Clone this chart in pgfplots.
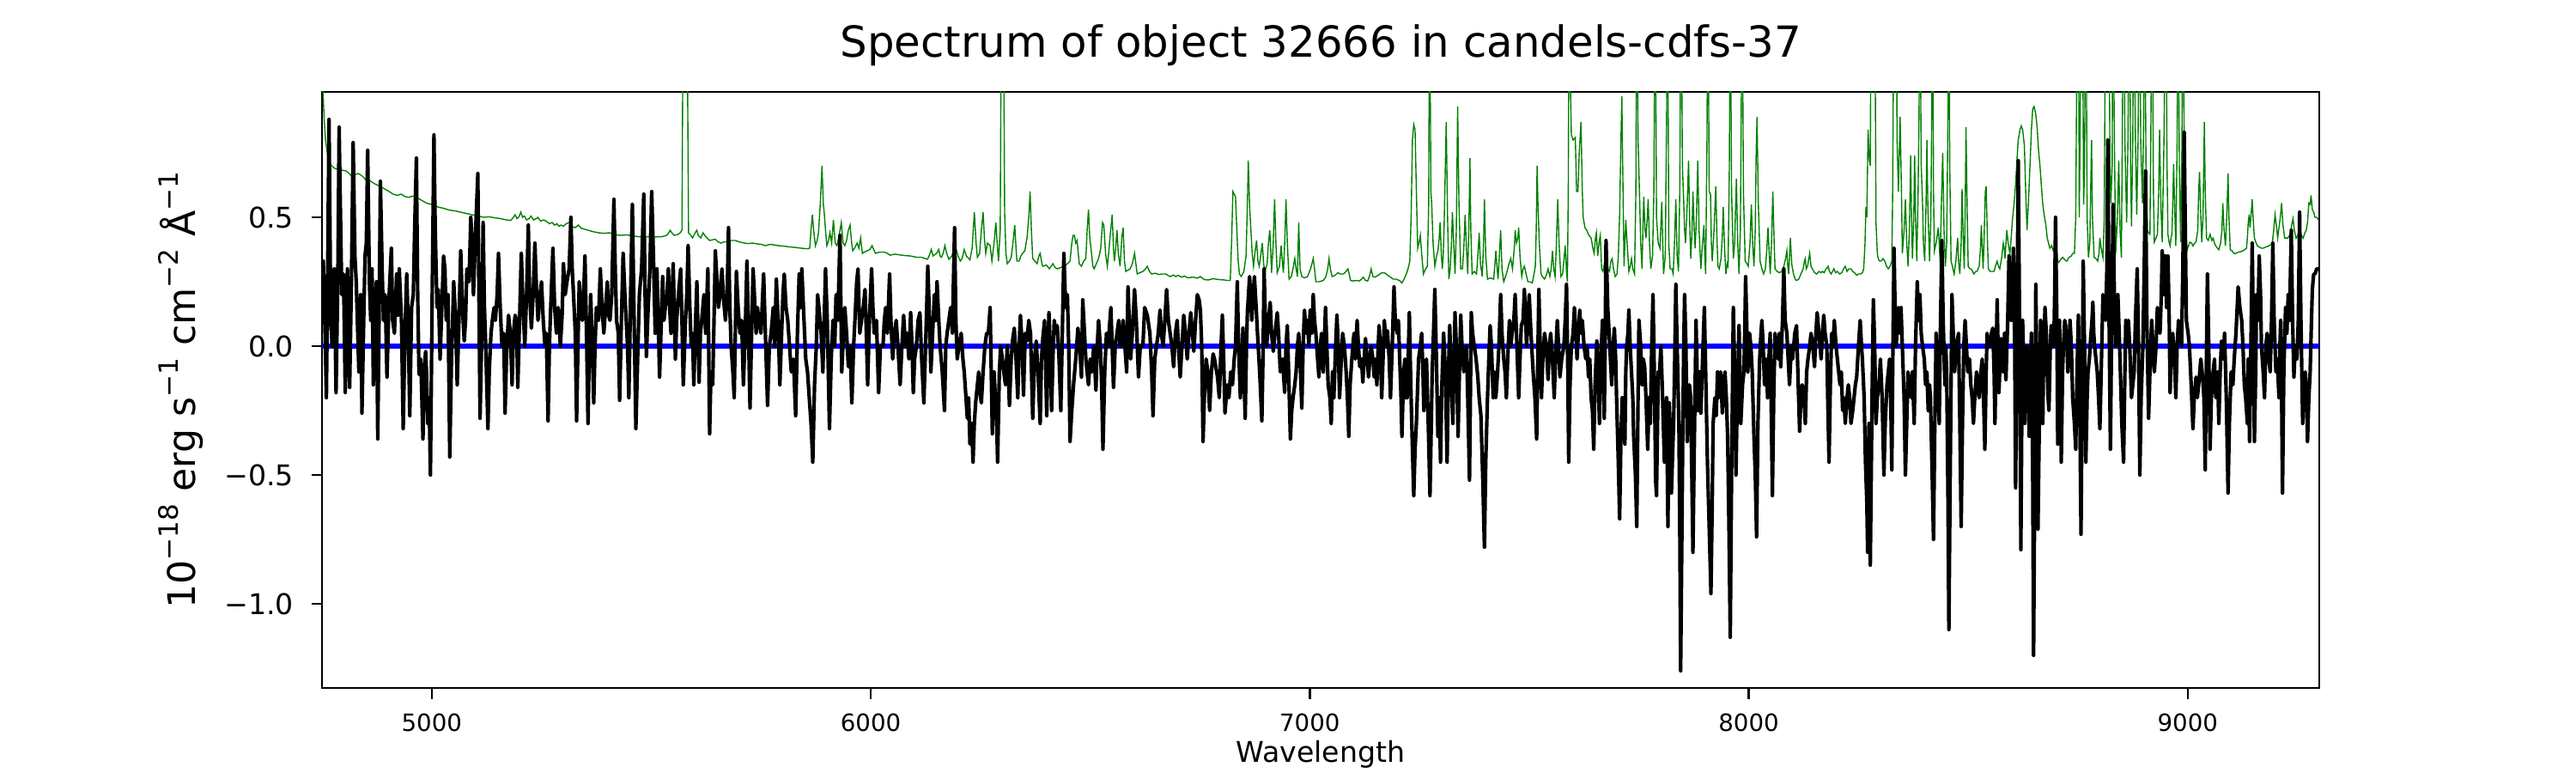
\documentclass[border=0pt]{standalone}
\usepackage{fontspec}
\setmainfont{DejaVu Sans}
\usepackage{pgfplots}
\pgfplotsset{compat=1.18}
\definecolor{mplgreen}{RGB}{0,128,0}
\newcommand{\sps}[1]{\raisebox{0.45em}{\fontsize{11.2}{13}\selectfont #1}}
\begin{document}
\begin{tikzpicture}
\path[use as bounding box] (0,0) rectangle (1080bp,324bp);
\begin{axis}[
  at={(135bp,35.6bp)}, anchor=south west,
  scale only axis, width=837.4bp, height=249.9bp,
  xmin=4750, xmax=9300, ymin=-1.327, ymax=0.987,
  axis line style={line width=0.9bp},
  tick align=outside, xtick pos=bottom, ytick pos=left,
  tick style={line width=0.9bp, black},
  major tick length=4.5bp,
  xtick={5000,6000,7000,8000,9000}, xticklabels={5000,6000,7000,8000,9000},
  ytick={-1,-0.5,0,0.5}, yticklabels={−1.0,−0.5,0.0,0.5},
  xticklabel style={font=\fontsize{10}{12}\selectfont, anchor=base, inner sep=0pt, yshift=-13.75bp},
  yticklabel style={font=\fontsize{12}{14}\selectfont, anchor=east, inner sep=0pt, xshift=-7.2bp},
  title={Spectrum of object 32666 in candels-cdfs-37},
  title style={at={(axis description cs:0.5,1)}, anchor=base, yshift=8.5bp, inner sep=0pt, font=\fontsize{18}{21.6}\selectfont},
  xlabel={Wavelength},
  xlabel style={at={(axis description cs:0.5,0)}, anchor=base, yshift=-31.1bp, inner sep=0pt, font=\fontsize{12}{14.4}\selectfont},
  ylabel={10\sps{−18} erg s\sps{−1} cm\sps{−2} Å\sps{−1}},
  ylabel style={at={(axis description cs:-0.0633,0.5)}, anchor=base, inner sep=0pt, font=\fontsize{16}{19}\selectfont},
]
% green (error / sky) spectrum
\addplot[color=mplgreen, line width=0.5bp, mark=none] coordinates {
(4750,1.2)(4752,1.0)(4755,0.88)(4758,0.8)(4762,0.75)(4766,0.72)(4772,0.70)(4779,0.69)(4790,0.685)(4805,0.68)
(4812,0.67)(4818,0.66)(4825,0.665)(4832,0.67)(4838,0.665)(4845,0.655)(4852,0.64)(4855,0.65)(4861,0.64)(4870,0.63)
(4883,0.62)(4893,0.61)(4903,0.60)(4912,0.59)(4922,0.585)(4930,0.59)(4940,0.58)(4949,0.578)(4958,0.583)(4968,0.575)
(4978,0.565)(4988,0.555)(5000,0.55)(5014,0.54)(5027,0.535)(5040,0.528)(5053,0.525)(5066,0.52)(5079,0.515)(5092,0.51)
(5105,0.505)(5118,0.50)(5131,0.502)(5144,0.498)(5157,0.495)(5170,0.49)(5180,0.488)(5186,0.50)(5190,0.51)(5194,0.495)
(5198,0.50)(5203,0.52)(5207,0.50)(5211,0.505)(5216,0.49)(5222,0.495)(5226,0.505)(5232,0.49)(5238,0.495)(5242,0.50)
(5248,0.485)(5255,0.49)(5261,0.485)(5268,0.475)(5274,0.48)(5280,0.47)(5285,0.475)(5290,0.465)(5294,0.47)(5300,0.465)
(5306,0.475)(5313,0.48)(5318,0.465)(5327,0.46)(5334,0.47)(5340,0.458)(5346,0.455)(5356,0.45)(5366,0.445)(5380,0.44)
(5392,0.438)(5405,0.44)(5418,0.432)(5431,0.43)(5444,0.432)(5457,0.428)(5470,0.425)(5483,0.423)(5496,0.425)(5510,0.424)
(5525,0.425)(5535,0.43)(5540,0.44)(5543,0.45)(5547,0.44)(5552,0.43)(5560,0.433)(5566,0.44)(5570,0.45)(5573,1.5)
(5577,1.5)(5581,1.5)(5585,0.44)(5590,0.43)(5594,0.42)(5600,0.44)(5604,0.45)(5607,0.43)(5613,0.42)(5618,0.44)
(5624,0.425)(5633,0.41)(5640,0.413)(5646,0.415)(5652,0.405)(5659,0.40)(5666,0.405)(5672,0.405)(5680,0.41)(5692,0.41)
(5700,0.405)(5712,0.40)(5722,0.398)(5731,0.40)(5741,0.397)(5751,0.395)(5760,0.39)(5770,0.395)(5780,0.393)(5790,0.39)
(5803,0.388)(5816,0.385)(5829,0.383)(5842,0.38)(5855,0.378)(5861,0.38)(5864,0.45)(5867,0.51)(5870,0.45)(5874,0.39)
(5878,0.41)(5881,0.44)(5885,0.55)(5889,0.70)(5892,0.55)(5894,0.52)(5897,0.45)(5900,0.39)(5904,0.41)(5907,0.44)
(5911,0.40)(5915,0.49)(5919,0.40)(5923,0.39)(5927,0.42)(5930,0.45)(5933,0.48)(5937,0.40)(5941,0.39)(5945,0.41)
(5949,0.45)(5953,0.47)(5956,0.41)(5959,0.37)(5963,0.38)(5969,0.40)(5973,0.38)(5977,0.42)(5981,0.36)(5985,0.365)
(5992,0.37)(5998,0.375)(6003,0.39)(6008,0.37)(6011,0.36)(6020,0.365)(6031,0.365)(6038,0.36)(6044,0.353)(6055,0.357)
(6063,0.355)(6075,0.352)(6090,0.35)(6105,0.345)(6116,0.345)(6124,0.34)(6129,0.337)(6133,0.35)(6138,0.375)(6142,0.35)
(6145,0.354)(6150,0.36)(6155,0.375)(6158,0.35)(6161,0.345)(6165,0.36)(6169,0.39)(6173,0.36)(6178,0.337)(6185,0.35)
(6191,0.39)(6194,0.38)(6199,0.35)(6204,0.33)(6208,0.34)(6213,0.375)(6218,0.35)(6226,0.335)(6231,0.38)(6236,0.52)
(6240,0.40)(6243,0.345)(6248,0.36)(6252,0.45)(6256,0.52)(6259,0.42)(6262,0.36)(6266,0.40)(6272,0.39)(6276,0.33)
(6281,0.40)(6285,0.48)(6288,0.40)(6291,0.33)(6295,0.45)(6298,1.5)(6302,1.5)(6305,0.52)(6308,0.36)(6311,0.32)
(6316,0.33)(6320,0.344)(6324,0.40)(6328,0.47)(6331,0.38)(6333,0.33)(6338,0.33)(6342,0.35)(6346,0.36)(6351,0.37)
(6356,0.42)(6360,0.50)(6363,0.60)(6366,0.45)(6369,0.34)(6374,0.33)(6379,0.32)(6383,0.35)(6386,0.36)(6390,0.32)
(6392,0.31)(6400,0.315)(6407,0.30)(6411,0.31)(6415,0.32)(6420,0.305)(6425,0.30)(6432,0.305)(6441,0.31)(6448,0.32)
(6454,0.33)(6458,0.40)(6461,0.43)(6464,0.43)(6467,0.40)(6470,0.41)(6475,0.32)(6480,0.31)(6485,0.33)(6490,0.34)
(6493,0.45)(6496,0.53)(6499,0.42)(6503,0.36)(6506,0.31)(6509,0.30)(6514,0.32)(6519,0.34)(6524,0.38)(6528,0.48)
(6531,0.47)(6535,0.36)(6539,0.31)(6542,0.36)(6546,0.44)(6550,0.51)(6553,0.38)(6555,0.33)(6558,0.38)(6561,0.45)
(6564,0.36)(6568,0.31)(6572,0.42)(6575,0.46)(6578,0.33)(6581,0.29)(6586,0.295)(6591,0.30)(6596,0.32)(6601,0.36)
(6604,0.32)(6607,0.28)(6613,0.285)(6620,0.29)(6626,0.30)(6630,0.31)(6635,0.29)(6640,0.28)(6648,0.283)(6656,0.278)
(6664,0.28)(6672,0.28)(6682,0.27)(6690,0.276)(6695,0.27)(6700,0.275)(6708,0.268)(6715,0.272)(6722,0.265)(6734,0.268)
(6744,0.264)(6751,0.27)(6760,0.258)(6770,0.257)(6780,0.262)(6786,0.26)(6795,0.258)(6805,0.257)(6812,0.255)(6819,0.255)
(6822,0.40)(6825,0.60)(6828,0.59)(6831,0.58)(6834,0.45)(6837,0.33)(6840,0.28)(6844,0.27)(6850,0.29)(6855,0.35)
(6858,0.55)(6860,0.72)(6863,0.55)(6866,0.45)(6869,0.36)(6872,0.31)(6875,0.36)(6879,0.41)(6882,0.33)(6885,0.31)
(6889,0.36)(6892,0.40)(6895,0.32)(6898,0.29)(6903,0.32)(6906,0.40)(6909,0.45)(6911,0.38)(6913,0.285)(6917,0.40)
(6920,0.57)(6923,0.40)(6926,0.285)(6931,0.31)(6935,0.39)(6938,0.32)(6940,0.285)(6943,0.40)(6946,0.57)(6949,0.40)
(6953,0.26)(6958,0.27)(6962,0.30)(6966,0.34)(6969,0.30)(6972,0.27)(6975,0.48)(6978,0.30)(6982,0.27)(6988,0.265)
(6995,0.27)(7002,0.30)(7008,0.34)(7011,0.30)(7014,0.25)(7022,0.25)(7031,0.255)(7037,0.27)(7041,0.30)(7044,0.34)
(7047,0.30)(7051,0.27)(7058,0.275)(7064,0.285)(7070,0.28)(7077,0.28)(7083,0.29)(7087,0.30)(7090,0.28)(7093,0.255)
(7100,0.253)(7107,0.255)(7113,0.253)(7118,0.26)(7122,0.268)(7127,0.255)(7132,0.253)(7136,0.27)(7140,0.30)(7144,0.27)
(7149,0.268)(7156,0.275)(7164,0.285)(7171,0.284)(7178,0.275)(7184,0.268)(7190,0.26)(7197,0.26)(7204,0.255)(7210,0.245)
(7215,0.26)(7220,0.28)(7224,0.30)(7228,0.33)(7231,0.50)(7234,0.80)(7237,0.86)(7240,0.84)(7243,0.60)(7246,0.38)
(7249,0.40)(7252,0.43)(7255,0.36)(7259,0.28)(7264,0.30)(7268,0.31)(7271,0.55)(7273,1.5)(7276,0.60)(7278,0.55)
(7281,0.40)(7285,0.31)(7289,0.35)(7292,0.37)(7295,0.42)(7297,0.48)(7300,0.35)(7302,0.30)(7304,0.35)(7306,0.45)
(7309,0.70)(7311,0.87)(7314,0.50)(7317,0.26)(7320,0.30)(7323,0.40)(7325,0.52)(7328,0.40)(7331,0.28)(7334,0.45)
(7337,0.93)(7340,0.55)(7344,0.30)(7348,0.30)(7351,0.38)(7354,0.51)(7357,0.38)(7360,0.28)(7363,0.50)(7365,0.73)
(7367,0.45)(7370,0.28)(7375,0.29)(7380,0.28)(7383,0.35)(7386,0.44)(7389,0.32)(7393,0.27)(7396,0.40)(7398,0.57)
(7401,0.35)(7405,0.26)(7412,0.265)(7419,0.26)(7422,0.32)(7424,0.37)(7427,0.30)(7429,0.26)(7432,0.35)(7435,0.45)
(7438,0.30)(7442,0.25)(7448,0.28)(7454,0.32)(7458,0.34)(7462,0.30)(7466,0.38)(7468,0.45)(7471,0.40)(7474,0.42)
(7476,0.46)(7479,0.35)(7483,0.27)(7486,0.30)(7489,0.31)(7493,0.28)(7497,0.25)(7502,0.25)(7507,0.245)(7511,0.28)
(7514,0.31)(7516,0.45)(7518,0.70)(7520,0.55)(7523,0.40)(7527,0.28)(7530,0.27)(7535,0.26)(7540,0.28)(7543,0.30)
(7547,0.27)(7550,0.30)(7553,0.37)(7556,0.30)(7559,0.27)(7562,0.40)(7565,0.57)(7568,0.40)(7572,0.27)(7576,0.28)
(7580,0.35)(7582,0.39)(7585,0.29)(7587,0.25)(7589,0.60)(7591,1.5)(7594,1.0)(7596,0.82)(7600,0.80)(7605,0.81)
(7608,0.60)(7611,0.60)(7614,0.75)(7618,0.87)(7621,0.60)(7623,0.50)(7627,0.46)(7631,0.45)(7636,0.43)(7641,0.42)
(7645,0.38)(7648,0.36)(7651,0.42)(7653,0.44)(7656,0.35)(7659,0.40)(7662,0.43)(7665,0.30)(7668,0.29)(7670,0.31)
(7673,0.34)(7676,0.32)(7679,0.30)(7683,0.29)(7686,0.33)(7689,0.34)(7692,0.30)(7696,0.27)(7700,0.28)(7703,0.35)
(7706,0.51)(7709,0.80)(7711,0.97)(7713,0.70)(7716,0.31)(7718,0.40)(7720,0.49)(7723,0.40)(7727,0.29)(7730,0.31)
(7733,0.34)(7736,0.30)(7740,0.28)(7743,0.60)(7745,1.5)(7748,0.80)(7751,0.61)(7754,0.40)(7757,0.30)(7759,0.45)
(7761,0.58)(7764,0.45)(7766,0.42)(7769,0.50)(7771,0.57)(7774,0.40)(7777,0.30)(7781,0.35)(7784,0.60)(7787,1.5)
(7790,0.50)(7794,0.40)(7798,0.38)(7802,0.56)(7806,0.28)(7810,0.35)(7813,0.90)(7815,1.5)(7818,0.40)(7821,0.30)
(7825,0.30)(7828,0.28)(7831,0.40)(7834,0.57)(7837,0.35)(7840,0.29)(7843,0.60)(7846,1.5)(7849,0.70)(7852,0.56)
(7854,0.45)(7856,0.40)(7860,0.55)(7863,0.72)(7866,0.45)(7868,0.34)(7871,0.45)(7873,0.60)(7876,0.45)(7878,0.38)
(7881,0.50)(7884,0.72)(7887,0.45)(7891,0.30)(7894,0.38)(7898,0.47)(7900,0.35)(7902,0.28)(7905,0.80)(7907,1.5)
(7910,0.60)(7913,0.59)(7915,0.40)(7917,0.33)(7921,0.45)(7925,0.62)(7928,0.40)(7930,0.31)(7933,0.30)(7937,0.34)
(7940,0.43)(7942,0.54)(7945,0.38)(7948,0.28)(7951,0.32)(7953,0.31)(7956,0.70)(7958,1.5)(7961,0.60)(7965,0.34)
(7968,0.40)(7972,0.65)(7975,0.40)(7978,0.28)(7981,0.45)(7983,0.90)(7985,1.5)(7988,0.60)(7992,0.33)(7996,0.32)
(7999,0.31)(8003,0.40)(8006,0.55)(8009,0.40)(8012,0.31)(8015,0.45)(8017,0.75)(8019,0.89)(8022,0.55)(8026,0.33)
(8030,0.30)(8034,0.28)(8038,0.30)(8041,0.37)(8044,0.46)(8047,0.35)(8049,0.28)(8052,0.40)(8055,0.60)(8058,0.40)
(8060,0.30)(8065,0.29)(8070,0.285)(8075,0.29)(8080,0.31)(8084,0.34)(8087,0.37)(8089,0.31)(8091,0.28)(8093,0.35)
(8095,0.42)(8098,0.32)(8102,0.28)(8106,0.26)(8109,0.255)(8114,0.26)(8119,0.28)(8124,0.30)(8127,0.33)(8129,0.34)
(8131,0.30)(8134,0.31)(8136,0.33)(8139,0.36)(8142,0.31)(8145,0.30)(8150,0.285)(8155,0.28)(8160,0.29)(8165,0.285)
(8168,0.29)(8172,0.285)(8176,0.30)(8179,0.305)(8181,0.31)(8184,0.29)(8188,0.28)(8191,0.29)(8194,0.30)(8198,0.285)
(8202,0.29)(8207,0.28)(8212,0.285)(8216,0.30)(8220,0.31)(8224,0.29)(8228,0.30)(8233,0.30)(8237,0.29)(8241,0.285)
(8246,0.275)(8250,0.28)(8255,0.28)(8259,0.285)(8262,0.30)(8265,0.40)(8267,0.54)(8269,0.50)(8272,0.84)(8275,0.72)
(8277,0.70)(8279,1.5)(8284,1.5)(8287,1.5)(8290,0.48)(8293,0.36)(8295,0.34)(8298,0.33)(8302,0.33)(8306,0.34)
(8310,0.33)(8314,0.31)(8318,0.30)(8322,0.31)(8326,0.33)(8328,0.60)(8331,1.5)(8334,1.5)(8336,1.5)(8338,0.80)
(8341,0.60)(8343,0.75)(8345,0.89)(8348,0.60)(8350,0.36)(8354,0.45)(8357,0.57)(8360,0.40)(8363,0.31)(8366,0.45)
(8369,0.74)(8371,0.50)(8373,0.34)(8376,0.50)(8378,0.74)(8380,0.50)(8383,0.33)(8386,0.60)(8388,0.90)(8390,1.5)
(8393,0.70)(8396,0.56)(8398,0.40)(8401,0.33)(8404,0.55)(8406,0.80)(8408,0.55)(8412,0.33)(8415,0.50)(8417,0.90)
(8419,1.5)(8421,0.60)(8423,0.37)(8427,0.40)(8432,0.46)(8434,0.40)(8436,0.33)(8439,0.55)(8442,0.75)(8445,0.45)
(8448,0.31)(8451,0.40)(8454,0.90)(8456,1.5)(8458,0.70)(8461,0.33)(8464,0.31)(8468,0.28)(8472,0.33)(8476,0.42)
(8478,0.33)(8481,0.28)(8484,0.40)(8486,0.61)(8489,0.40)(8491,0.30)(8493,0.50)(8495,0.85)(8498,0.50)(8500,0.31)
(8504,0.30)(8507,0.30)(8510,0.29)(8513,0.28)(8517,0.29)(8520,0.29)(8525,0.31)(8528,0.38)(8530,0.47)(8532,0.38)
(8534,0.30)(8536,0.40)(8539,0.60)(8541,0.62)(8544,0.40)(8546,0.30)(8550,0.29)(8556,0.29)(8559,0.29)(8562,0.31)
(8566,0.33)(8569,0.31)(8572,0.30)(8576,0.34)(8580,0.40)(8582,0.38)(8584,0.34)(8586,0.40)(8588,0.45)(8591,0.40)
(8595,0.36)(8598,0.42)(8601,0.495)(8605,0.56)(8608,0.63)(8611,0.72)(8614,0.80)(8618,0.84)(8621,0.855)(8624,0.84)
(8628,0.78)(8631,0.60)(8634,0.45)(8637,0.55)(8641,0.71)(8644,0.84)(8647,0.92)(8650,0.93)(8654,0.90)(8657,0.85)
(8660,0.766)(8664,0.69)(8667,0.615)(8670,0.55)(8673,0.51)(8677,0.47)(8680,0.42)(8683,0.40)(8686,0.38)(8690,0.39)
(8694,0.37)(8697,0.385)(8700,0.36)(8704,0.33)(8706,0.325)(8710,0.335)(8715,0.345)(8720,0.335)(8725,0.33)(8729,0.344)
(8735,0.35)(8738,0.36)(8742,0.36)(8745,0.50)(8747,1.0)(8749,1.5)(8751,1.5)(8753,0.50)(8755,0.83)(8757,1.5)
(8760,1.5)(8763,0.55)(8765,0.70)(8768,1.5)(8771,0.50)(8774,0.344)(8777,0.40)(8779,0.60)(8781,0.80)(8783,0.50)
(8787,0.344)(8791,0.34)(8795,0.33)(8798,0.36)(8800,0.42)(8803,0.38)(8807,0.344)(8810,0.50)(8813,1.5)(8816,1.0)
(8820,1.5)(8823,0.70)(8825,0.555)(8828,0.70)(8830,1.5)(8833,0.80)(8836,0.36)(8840,0.50)(8843,0.72)(8846,0.45)
(8849,0.344)(8851,0.80)(8854,1.5)(8857,0.80)(8861,0.48)(8864,0.80)(8867,1.5)(8870,0.70)(8872,0.465)(8875,0.80)
(8877,1.5)(8881,0.80)(8884,0.51)(8887,0.80)(8890,1.5)(8893,0.80)(8897,0.555)(8900,0.90)(8902,1.5)(8905,0.70)
(8908,0.45)(8911,0.44)(8914,0.434)(8916,0.80)(8919,1.5)(8922,0.60)(8924,0.404)(8928,0.42)(8931,0.434)(8934,0.60)
(8936,0.84)(8939,0.55)(8942,0.404)(8946,0.80)(8950,1.5)(8953,0.70)(8955,0.434)(8958,0.40)(8960,0.389)(8962,0.42)
(8964,0.434)(8966,0.55)(8968,0.706)(8971,0.50)(8973,0.389)(8976,0.80)(8978,1.5)(8981,0.70)(8984,0.404)(8987,0.80)
(8989,1.5)(8992,0.80)(8994,0.555)(8997,0.40)(8999,0.374)(9002,0.39)(9005,0.404)(9009,0.40)(9012,0.389)(9016,0.40)
(9019,0.404)(9023,0.45)(9025,0.60)(9027,0.676)(9029,0.55)(9032,0.404)(9035,0.50)(9038,0.87)(9040,0.60)(9043,0.419)
(9047,0.41)(9051,0.434)(9055,0.41)(9058,0.419)(9061,0.40)(9064,0.389)(9068,0.38)(9071,0.374)(9075,0.40)(9078,0.45)
(9080,0.555)(9083,0.45)(9086,0.389)(9089,0.50)(9092,0.67)(9094,0.50)(9097,0.374)(9101,0.37)(9106,0.359)(9110,0.36)
(9115,0.365)(9120,0.366)(9125,0.37)(9130,0.374)(9134,0.38)(9136,0.42)(9138,0.48)(9140,0.51)(9142,0.46)(9144,0.50)
(9147,0.57)(9149,0.50)(9152,0.419)(9156,0.40)(9159,0.389)(9163,0.385)(9168,0.38)(9172,0.38)(9178,0.385)(9185,0.389)
(9190,0.395)(9193,0.404)(9196,0.45)(9199,0.51)(9202,0.47)(9205,0.42)(9208,0.46)(9211,0.50)(9214,0.555)(9217,0.47)
(9221,0.419)(9225,0.42)(9228,0.419)(9232,0.43)(9235,0.449)(9238,0.48)(9240,0.495)(9243,0.45)(9247,0.419)(9251,0.43)
(9255,0.434)(9259,0.43)(9263,0.419)(9267,0.44)(9270,0.449)(9273,0.48)(9276,0.555)(9279,0.55)(9281,0.585)(9284,0.53)
(9287,0.52)(9290,0.50)(9294,0.50)(9298,0.49)
};
% zero line
\addplot[color=blue, line width=2bp, mark=none] coordinates {(4750,0) (9300,0)};
% black flux spectrum
\addplot[color=black, line width=1.5bp, line join=round, mark=none] coordinates {
(4750,0.12)(4753,0.33)(4757,0.05)(4760,-0.2)(4763,0.3)(4766,0.88)(4770,0.1)(4773,0.0)(4778,0.3)(4782,-0.18)
(4786,0.25)(4789,0.85)(4795,0.2)(4799,0.28)(4803,-0.18)(4808,0.3)(4813,-0.16)(4817,0.25)(4821,0.79)(4825,0.35)
(4828,0.25)(4834,-0.1)(4838,0.2)(4841,-0.26)(4845,0.1)(4848,0.35)(4851,0.4)(4854,0.76)(4858,0.25)(4861,0.1)
(4864,0.3)(4867,-0.15)(4871,0.15)(4874,0.25)(4877,-0.36)(4880,0.1)(4883,0.64)(4887,0.3)(4890,0.1)(4894,0.2)
(4898,-0.12)(4903,0.2)(4908,0.38)(4911,0.1)(4915,0.05)(4920,0.28)(4923,0.12)(4926,0.3)(4931,0.1)(4935,-0.32)
(4939,0.05)(4943,0.28)(4946,0.1)(4950,-0.27)(4954,0.15)(4958,0.2)(4961,0.45)(4965,0.73)(4968,0.2)(4971,-0.11)
(4975,-0.05)(4980,-0.36)(4983,-0.1)(4986,-0.02)(4988,-0.1)(4991,-0.3)(4994,-0.2)(4997,-0.50)(5001,0.2)(5005,0.82)
(5008,0.45)(5012,0.15)(5015,0.22)(5019,-0.05)(5023,0.15)(5027,0.35)(5030,0.3)(5033,0.1)(5037,0.2)(5041,-0.43)
(5045,-0.05)(5050,0.25)(5054,0.12)(5058,-0.15)(5062,0.1)(5066,0.37)(5070,0.15)(5074,0.02)(5077,0.1)(5080,0.3)
(5085,0.25)(5089,0.5)(5092,0.4)(5095,0.2)(5100,0.45)(5105,0.67)(5110,-0.28)(5114,0.05)(5117,0.48)(5120,0.15)
(5123,0.0)(5128,-0.32)(5131,-0.1)(5135,0.05)(5138,0.1)(5142,0.15)(5145,0.1)(5149,0.2)(5152,0.36)(5156,0.15)
(5160,0.0)(5164,0.05)(5167,-0.26)(5171,0.0)(5175,0.12)(5179,0.05)(5183,-0.15)(5186,0.05)(5190,0.12)(5193,0.1)
(5196,-0.16)(5200,0.1)(5204,0.36)(5208,0.15)(5212,0.0)(5216,0.2)(5220,0.47)(5223,0.2)(5227,0.07)(5231,0.2)
(5235,0.4)(5238,0.25)(5242,0.1)(5246,0.18)(5250,0.25)(5254,0.1)(5258,0.0)(5261,0.05)(5265,-0.29)(5268,0.0)
(5271,0.15)(5276,0.38)(5280,0.15)(5284,0.05)(5288,0.15)(5293,0.0)(5297,0.12)(5300,0.32)(5304,0.2)(5308,0.25)
(5313,0.3)(5317,0.5)(5320,0.3)(5323,0.2)(5327,0.05)(5330,-0.29)(5333,0.0)(5336,0.25)(5340,0.15)(5343,0.1)
(5346,0.2)(5349,0.35)(5352,0.1)(5356,-0.3)(5359,0.0)(5362,0.2)(5365,0.05)(5369,-0.22)(5372,0.0)(5375,0.15)
(5380,0.1)(5384,0.3)(5388,0.15)(5392,0.05)(5396,0.15)(5400,0.25)(5403,0.12)(5406,0.1)(5410,0.2)(5415,0.57)
(5418,0.3)(5421,0.1)(5425,0.05)(5428,-0.21)(5432,0.1)(5436,0.36)(5440,0.2)(5443,0.1)(5446,0.0)(5449,-0.2)
(5453,0.2)(5457,0.55)(5461,0.1)(5465,-0.32)(5469,-0.05)(5473,0.2)(5478,0.3)(5483,0.59)(5486,0.2)(5489,-0.04)
(5493,0.15)(5497,0.3)(5501,0.6)(5505,0.35)(5509,0.05)(5513,0.3)(5519,-0.12)(5523,0.1)(5526,0.27)(5529,0.1)
(5532,0.15)(5536,0.2)(5539,0.3)(5542,0.15)(5545,0.05)(5550,0.32)(5555,-0.05)(5558,0.1)(5562,0.2)(5567,0.3)
(5570,0.1)(5573,-0.15)(5578,0.1)(5581,0.2)(5584,0.39)(5588,0.15)(5591,0.0)(5594,0.05)(5597,-0.15)(5601,0.1)
(5604,0.25)(5609,-0.14)(5612,0.05)(5615,0.1)(5620,0.2)(5624,0.05)(5629,0.3)(5633,-0.34)(5636,-0.1)(5640,-0.15)
(5643,0.1)(5646,0.37)(5650,0.25)(5653,0.15)(5657,0.2)(5661,0.3)(5665,0.18)(5669,0.1)(5673,0.2)(5676,0.46)
(5679,0.15)(5682,0.0)(5686,-0.1)(5689,-0.2)(5692,0.1)(5694,0.29)(5698,0.15)(5702,0.05)(5706,0.1)(5710,-0.15)
(5714,0.05)(5718,0.33)(5721,0.1)(5725,-0.24)(5728,0.0)(5732,0.3)(5735,0.2)(5739,0.05)(5742,0.15)(5745,0.1)
(5750,0.05)(5756,0.28)(5760,0.05)(5765,-0.23)(5769,0.0)(5773,0.05)(5778,0.15)(5781,0.0)(5785,0.26)(5789,0.1)
(5793,-0.15)(5797,0.05)(5800,0.2)(5803,0.28)(5807,0.15)(5811,0.1)(5815,0.0)(5819,-0.1)(5824,-0.05)(5829,-0.27)
(5833,0.05)(5837,0.28)(5840,0.15)(5843,0.3)(5848,0.1)(5852,-0.05)(5856,-0.1)(5860,-0.2)(5864,-0.3)(5868,-0.45)
(5872,-0.15)(5876,0.0)(5879,0.2)(5882,0.15)(5887,0.05)(5891,-0.1)(5894,0.1)(5897,0.3)(5901,0.1)(5906,-0.32)
(5910,-0.05)(5914,0.1)(5918,0.0)(5921,0.2)(5925,0.1)(5930,0.43)(5934,-0.1)(5938,0.05)(5941,0.15)(5945,0.05)
(5949,-0.08)(5953,0.0)(5957,-0.22)(5961,0.0)(5964,0.1)(5968,0.25)(5971,0.3)(5975,0.05)(5979,0.1)(5983,0.15)
(5987,0.22)(5990,0.05)(5993,-0.15)(5997,0.1)(6002,0.3)(6005,0.15)(6008,0.05)(6013,0.1)(6018,-0.18)(6022,0.0)
(6028,0.0)(6031,0.1)(6034,0.15)(6038,0.05)(6043,0.28)(6046,0.1)(6050,-0.05)(6054,0.05)(6058,0.1)(6062,0.0)
(6067,-0.15)(6071,0.0)(6075,0.12)(6079,0.0)(6083,0.05)(6087,-0.05)(6091,0.13)(6094,0.0)(6097,-0.18)(6100,-0.05)
(6104,0.0)(6108,0.1)(6112,0.13)(6116,-0.05)(6121,-0.22)(6125,0.0)(6130,0.31)(6134,0.1)(6137,-0.1)(6141,0.05)
(6145,0.2)(6148,0.1)(6151,0.25)(6155,0.1)(6158,0.0)(6163,-0.1)(6168,-0.25)(6171,0.0)(6174,0.05)(6178,0.1)
(6182,0.15)(6186,0.05)(6191,0.46)(6194,0.1)(6197,-0.05)(6201,0.0)(6206,0.05)(6210,-0.05)(6213,-0.1)(6217,-0.2)
(6220,-0.28)(6223,-0.2)(6226,-0.38)(6230,-0.3)(6233,-0.45)(6236,-0.3)(6239,-0.22)(6243,-0.15)(6246,-0.1)(6249,-0.18)
(6252,-0.22)(6256,-0.1)(6260,0.0)(6264,0.05)(6268,0.05)(6272,0.15)(6277,-0.34)(6281,-0.1)(6284,-0.2)(6287,-0.3)
(6289,-0.45)(6293,-0.1)(6296,0.0)(6300,-0.05)(6303,-0.1)(6307,-0.15)(6311,0.0)(6316,-0.23)(6320,-0.05)(6323,0.02)
(6327,0.07)(6331,-0.05)(6335,-0.2)(6338,0.0)(6341,0.12)(6345,0.0)(6348,-0.19)(6352,0.05)(6356,0.02)(6360,0.1)
(6364,0.05)(6369,-0.28)(6373,-0.05)(6377,0.02)(6381,-0.1)(6386,-0.3)(6389,-0.05)(6392,0.03)(6396,0.1)(6401,-0.27)
(6404,0.0)(6406,0.13)(6409,0.0)(6412,-0.25)(6415,-0.05)(6418,0.1)(6422,0.05)(6425,0.08)(6429,-0.05)(6433,-0.25)
(6437,0.1)(6440,0.36)(6444,0.15)(6448,0.2)(6451,0.0)(6454,-0.37)(6458,-0.25)(6462,-0.15)(6467,-0.05)(6472,0.07)
(6476,0.0)(6480,-0.12)(6483,0.18)(6487,0.05)(6490,-0.05)(6496,-0.15)(6500,-0.05)(6504,-0.1)(6508,0.0)(6513,-0.17)
(6516,0.0)(6519,0.1)(6523,0.0)(6526,-0.15)(6529,-0.4)(6533,-0.1)(6537,0.05)(6541,0.0)(6544,0.08)(6547,0.15)
(6550,0.0)(6553,-0.16)(6557,0.0)(6561,0.05)(6565,0.1)(6568,0.0)(6571,0.0)(6575,0.1)(6579,0.0)(6583,-0.1)
(6586,0.23)(6589,0.1)(6592,-0.05)(6596,0.05)(6601,0.22)(6605,0.1)(6610,-0.12)(6614,0.0)(6620,0.0)(6624,0.15)
(6630,0.12)(6636,0.05)(6640,-0.1)(6643,-0.27)(6647,-0.05)(6651,0.0)(6655,0.05)(6659,0.14)(6662,0.05)(6666,0.0)
(6670,0.1)(6674,0.22)(6678,0.1)(6682,0.05)(6686,0.0)(6690,-0.08)(6694,0.05)(6698,0.1)(6701,0.0)(6705,-0.12)
(6709,0.0)(6713,0.12)(6717,0.05)(6721,-0.05)(6725,0.05)(6729,0.13)(6733,0.05)(6736,-0.02)(6740,0.1)(6744,0.2)
(6748,0.18)(6751,0.14)(6754,0.0)(6757,-0.37)(6760,-0.2)(6764,-0.05)(6768,-0.1)(6772,-0.25)(6776,-0.1)(6780,-0.03)
(6783,-0.05)(6786,-0.08)(6790,-0.12)(6794,-0.2)(6798,0.0)(6801,0.12)(6804,-0.05)(6807,-0.26)(6812,-0.15)(6816,-0.2)
(6820,-0.1)(6824,-0.15)(6828,-0.05)(6831,0.0)(6835,0.25)(6838,0.0)(6842,-0.2)(6845,-0.05)(6848,0.07)(6850,-0.1)
(6853,-0.28)(6856,0.0)(6858,0.13)(6863,0.27)(6868,0.1)(6871,0.2)(6874,0.27)(6878,0.15)(6881,0.05)(6886,-0.1)
(6891,-0.29)(6894,0.0)(6896,0.3)(6899,0.1)(6902,0.0)(6906,0.1)(6910,0.17)(6913,0.05)(6917,-0.02)(6921,0.05)
(6926,0.13)(6929,0.05)(6933,-0.1)(6938,-0.05)(6943,-0.18)(6946,0.0)(6949,0.08)(6952,-0.1)(6956,-0.36)(6959,-0.25)
(6962,-0.2)(6966,-0.15)(6969,-0.1)(6972,0.0)(6975,0.05)(6979,-0.1)(6982,-0.24)(6985,0.0)(6988,0.14)(6992,0.05)
(6995,0.1)(6998,0.0)(7001,0.14)(7005,0.05)(7008,0.2)(7011,0.1)(7014,0.05)(7018,-0.05)(7021,-0.12)(7024,0.0)
(7027,0.05)(7031,-0.1)(7036,0.15)(7039,0.0)(7042,-0.15)(7046,-0.2)(7049,-0.3)(7052,-0.1)(7055,-0.2)(7059,0.0)
(7062,0.12)(7065,0.0)(7068,-0.2)(7072,-0.05)(7075,0.05)(7079,0.0)(7083,-0.1)(7086,-0.2)(7089,-0.35)(7092,-0.15)
(7094,-0.1)(7098,0.0)(7101,0.05)(7104,-0.05)(7108,0.1)(7111,0.0)(7114,-0.08)(7118,-0.05)(7121,-0.14)(7124,-0.05)
(7127,0.03)(7131,-0.05)(7134,-0.12)(7137,-0.05)(7140,0.0)(7144,-0.05)(7147,-0.12)(7150,-0.05)(7153,-0.15)(7156,0.0)
(7158,0.08)(7161,0.0)(7164,-0.2)(7167,-0.05)(7170,0.1)(7174,0.0)(7177,0.06)(7181,-0.05)(7184,-0.2)(7188,0.0)
(7192,0.23)(7195,0.1)(7199,0.05)(7202,0.1)(7205,-0.05)(7208,-0.2)(7210,-0.35)(7214,-0.1)(7217,-0.05)(7219,-0.2)
(7222,-0.2)(7225,0.0)(7227,0.13)(7229,-0.05)(7231,-0.2)(7234,-0.4)(7237,-0.58)(7240,-0.4)(7243,-0.3)(7246,-0.15)
(7248,-0.05)(7252,0.0)(7255,0.05)(7258,-0.1)(7260,-0.25)(7263,-0.1)(7266,-0.05)(7270,-0.3)(7274,-0.58)(7277,-0.3)
(7279,-0.1)(7282,0.05)(7285,0.22)(7288,0.0)(7292,-0.35)(7295,-0.2)(7298,-0.45)(7301,-0.15)(7305,0.05)(7309,-0.1)
(7313,-0.45)(7316,-0.1)(7319,0.08)(7322,-0.1)(7326,-0.3)(7329,-0.05)(7331,0.13)(7334,0.0)(7338,-0.35)(7341,-0.1)
(7344,0.12)(7347,0.0)(7351,-0.1)(7354,-0.05)(7357,0.0)(7360,-0.2)(7364,-0.52)(7366,-0.2)(7368,0.13)(7371,0.05)
(7375,0.0)(7379,-0.05)(7383,-0.12)(7386,-0.2)(7390,-0.27)(7394,-0.5)(7398,-0.78)(7401,-0.45)(7405,-0.2)(7408,-0.05)
(7411,0.08)(7414,0.0)(7418,-0.2)(7421,-0.1)(7424,-0.2)(7428,-0.1)(7431,0.0)(7435,0.2)(7438,0.05)(7442,-0.05)
(7445,-0.1)(7448,-0.2)(7451,-0.05)(7455,0.1)(7458,0.0)(7461,0.05)(7465,0.1)(7468,0.2)(7472,0.0)(7476,-0.2)
(7479,-0.05)(7482,0.08)(7486,0.1)(7489,0.22)(7492,0.1)(7494,0.0)(7497,0.1)(7500,0.2)(7504,0.05)(7509,-0.1)
(7513,-0.2)(7517,-0.36)(7520,0.0)(7522,0.22)(7525,0.0)(7528,-0.2)(7531,-0.05)(7535,0.05)(7539,0.0)(7543,-0.13)
(7546,0.0)(7549,0.05)(7553,-0.05)(7557,-0.2)(7560,-0.05)(7564,0.1)(7567,0.0)(7570,-0.12)(7574,-0.05)(7579,0.0)
(7582,0.1)(7585,0.24)(7588,-0.1)(7590,-0.45)(7593,-0.15)(7596,0.0)(7600,0.05)(7603,0.15)(7606,0.05)(7609,-0.05)
(7612,0.05)(7615,0.14)(7618,0.05)(7621,0.1)(7625,0.0)(7629,-0.05)(7632,0.0)(7635,-0.12)(7638,-0.05)(7641,-0.2)
(7644,-0.25)(7647,-0.4)(7650,-0.15)(7654,0.02)(7657,-0.1)(7660,-0.3)(7663,-0.05)(7667,0.1)(7669,0.0)(7671,-0.28)
(7673,0.0)(7675,0.41)(7679,0.15)(7682,0.05)(7685,-0.05)(7688,-0.15)(7691,0.0)(7694,0.07)(7697,-0.05)(7699,-0.2)
(7703,-0.45)(7706,-0.67)(7709,-0.35)(7712,-0.2)(7715,-0.3)(7718,-0.38)(7720,-0.1)(7722,0.0)(7725,0.05)(7727,0.14)
(7730,0.0)(7733,-0.1)(7736,-0.2)(7738,-0.35)(7742,-0.5)(7745,-0.7)(7748,-0.2)(7750,0.1)(7754,0.0)(7757,-0.15)
(7760,-0.05)(7763,-0.08)(7766,-0.2)(7770,-0.4)(7773,-0.2)(7776,-0.3)(7779,0.0)(7782,0.2)(7785,-0.1)(7788,-0.52)
(7790,-0.58)(7794,-0.1)(7797,-0.1)(7800,0.0)(7803,-0.15)(7808,-0.45)(7811,-0.3)(7813,-0.2)(7816,-0.7)(7819,-0.22)
(7822,-0.35)(7824,-0.57)(7827,-0.4)(7829,-0.3)(7832,0.0)(7834,0.24)(7837,0.0)(7841,-0.3)(7843,-0.7)(7845,-1.26)
(7848,-0.7)(7850,-0.3)(7852,0.0)(7854,0.2)(7857,0.0)(7860,-0.37)(7863,-0.2)(7865,-0.15)(7868,-0.2)(7870,-0.45)
(7873,-0.8)(7876,-0.4)(7880,0.1)(7882,-0.05)(7884,-0.25)(7888,-0.1)(7891,-0.26)(7895,-0.05)(7899,0.15)(7902,-0.1)
(7906,-0.45)(7910,-0.7)(7914,-0.96)(7917,-0.6)(7919,-0.3)(7923,-0.2)(7926,-0.27)(7929,-0.1)(7932,-0.2)(7936,-0.1)
(7940,-0.26)(7943,-0.15)(7946,-0.1)(7949,-0.2)(7952,-0.35)(7955,-0.7)(7958,-1.13)(7961,-0.5)(7965,0.15)(7968,-0.1)
(7971,-0.5)(7974,-0.2)(7978,0.08)(7980,-0.1)(7982,-0.3)(7986,-0.15)(7989,-0.1)(7991,0.05)(7993,0.27)(7996,0.05)
(7998,-0.1)(8002,0.05)(8005,0.0)(8008,-0.1)(8012,-0.35)(8015,-0.5)(8018,-0.74)(8021,-0.3)(8025,-0.05)(8028,0.05)
(8030,0.1)(8033,0.0)(8036,-0.15)(8040,-0.05)(8043,-0.2)(8046,-0.05)(8049,0.05)(8051,-0.2)(8054,-0.58)(8057,-0.2)
(8060,0.05)(8064,0.0)(8067,-0.05)(8070,0.05)(8073,-0.08)(8077,0.1)(8080,0.3)(8083,0.1)(8087,0.05)(8090,-0.05)
(8093,-0.15)(8097,0.0)(8100,-0.05)(8105,0.05)(8109,0.08)(8112,-0.1)(8116,-0.33)(8119,-0.2)(8122,-0.15)(8126,-0.2)
(8129,-0.3)(8132,-0.1)(8135,-0.05)(8139,0.0)(8142,0.05)(8146,0.0)(8150,-0.08)(8153,0.05)(8156,0.13)(8160,0.05)
(8165,-0.05)(8168,0.05)(8171,0.12)(8174,0.05)(8178,0.0)(8180,-0.2)(8183,-0.45)(8186,-0.15)(8189,0.05)(8192,0.0)
(8195,0.1)(8199,0.0)(8202,-0.05)(8205,-0.1)(8208,-0.15)(8211,-0.1)(8214,-0.25)(8217,-0.2)(8220,-0.3)(8224,-0.2)
(8227,-0.15)(8230,-0.2)(8233,-0.3)(8237,-0.25)(8240,-0.2)(8243,-0.15)(8246,-0.12)(8250,0.0)(8254,0.1)(8257,0.0)
(8259,-0.05)(8263,-0.2)(8266,-0.45)(8269,-0.6)(8271,-0.8)(8274,-0.3)(8277,-0.85)(8281,-0.2)(8284,0.18)(8287,0.0)
(8290,-0.3)(8293,-0.2)(8297,-0.15)(8300,-0.05)(8304,-0.2)(8306,-0.35)(8308,-0.5)(8311,-0.3)(8315,-0.15)(8318,-0.1)
(8321,-0.05)(8324,-0.25)(8326,-0.48)(8328,-0.1)(8331,0.38)(8334,0.1)(8336,0.0)(8339,0.1)(8341,0.15)(8344,0.05)
(8347,0.15)(8350,0.0)(8354,-0.2)(8357,-0.5)(8360,-0.3)(8363,-0.1)(8366,-0.15)(8370,-0.2)(8373,-0.1)(8377,-0.3)
(8380,0.0)(8384,0.25)(8387,0.1)(8390,0.2)(8393,0.05)(8396,0.0)(8400,-0.05)(8403,-0.15)(8406,-0.1)(8409,-0.25)
(8412,-0.15)(8414,-0.2)(8418,-0.5)(8421,-0.75)(8424,-0.3)(8427,0.05)(8431,-0.1)(8434,-0.3)(8437,0.1)(8440,0.41)
(8443,0.1)(8447,-0.15)(8449,0.0)(8451,-0.1)(8454,-0.6)(8456,-1.1)(8459,-0.5)(8463,0.2)(8466,0.05)(8469,-0.1)
(8473,0.0)(8478,0.05)(8481,-0.3)(8484,-0.7)(8487,-0.3)(8490,0.0)(8493,0.1)(8496,0.0)(8499,-0.1)(8503,-0.05)
(8506,-0.15)(8509,-0.2)(8512,-0.3)(8515,-0.2)(8519,-0.1)(8522,-0.15)(8525,-0.2)(8529,-0.1)(8532,-0.05)(8535,-0.2)
(8538,-0.4)(8541,-0.1)(8543,0.05)(8546,0.0)(8549,0.0)(8553,0.05)(8556,0.07)(8559,-0.1)(8561,-0.3)(8564,0.0)
(8566,0.18)(8570,-0.18)(8573,-0.05)(8575,0.03)(8578,0.0)(8580,-0.1)(8583,0.05)(8586,-0.13)(8590,0.1)(8593,0.35)
(8596,0.2)(8598,0.1)(8601,0.25)(8603,0.38)(8606,0.0)(8608,-0.55)(8611,0.0)(8614,0.72)(8617,0.1)(8620,-0.79)
(8622,-0.3)(8624,0.1)(8627,-0.1)(8629,-0.3)(8632,-0.1)(8634,0.0)(8637,-0.1)(8639,-0.35)(8642,-0.1)(8644,0.05)
(8647,-0.5)(8649,-1.2)(8652,-0.4)(8654,0.24)(8657,-0.2)(8659,-0.71)(8662,-0.3)(8665,0.1)(8667,0.0)(8670,-0.3)
(8672,0.0)(8675,0.15)(8678,0.05)(8680,-0.1)(8682,-0.2)(8684,-0.25)(8687,0.0)(8689,0.08)(8692,0.05)(8695,0.0)
(8697,0.2)(8699,0.5)(8702,0.1)(8704,-0.38)(8706,-0.1)(8708,0.1)(8710,-0.1)(8712,-0.45)(8715,-0.1)(8717,0.0)
(8720,0.1)(8722,0.08)(8725,0.0)(8727,-0.1)(8730,0.0)(8732,0.1)(8735,0.0)(8738,-0.2)(8742,-0.3)(8745,-0.4)
(8748,-0.1)(8751,0.12)(8754,-0.2)(8757,-0.73)(8760,-0.1)(8762,0.33)(8765,0.0)(8768,-0.45)(8771,-0.2)(8773,-0.1)
(8776,-0.05)(8779,0.03)(8782,0.1)(8784,0.17)(8786,0.05)(8788,0.0)(8791,-0.05)(8794,-0.1)(8797,-0.2)(8800,-0.32)
(8803,-0.1)(8807,0.2)(8810,0.15)(8813,0.1)(8816,0.3)(8818,0.8)(8821,0.1)(8824,-0.4)(8827,0.1)(8830,0.55)
(8833,0.2)(8836,0.0)(8838,0.1)(8841,0.2)(8844,0.05)(8847,-0.12)(8850,-0.3)(8854,-0.45)(8857,-0.1)(8859,0.1)
(8862,0.0)(8865,0.1)(8868,0.0)(8872,-0.2)(8875,-0.15)(8878,-0.1)(8881,0.1)(8885,0.3)(8888,0.0)(8891,-0.5)
(8894,-0.2)(8898,0.0)(8901,0.3)(8904,0.68)(8907,0.1)(8911,-0.28)(8914,-0.1)(8918,0.1)(8921,0.0)(8924,-0.1)
(8928,0.0)(8931,0.15)(8934,0.1)(8937,0.05)(8940,0.2)(8942,0.37)(8945,0.2)(8949,0.35)(8952,0.15)(8955,0.35)
(8958,0.1)(8960,-0.18)(8963,0.0)(8966,0.05)(8970,-0.05)(8973,-0.2)(8976,0.0)(8979,0.1)(8982,0.05)(8986,0.0)
(8989,0.3)(8992,0.83)(8995,0.4)(8997,0.1)(9001,0.05)(9004,0.0)(9008,-0.15)(9012,-0.32)(9015,-0.2)(9019,-0.12)
(9022,-0.2)(9025,-0.15)(9030,-0.05)(9034,-0.12)(9037,-0.2)(9040,-0.48)(9043,0.0)(9045,0.28)(9048,0.0)(9051,-0.4)
(9054,-0.2)(9058,-0.1)(9061,-0.05)(9064,-0.2)(9068,-0.1)(9071,-0.3)(9074,-0.1)(9077,0.02)(9081,-0.05)(9084,0.05)
(9088,-0.2)(9092,-0.57)(9095,-0.3)(9099,-0.1)(9103,-0.15)(9106,-0.05)(9110,0.05)(9115,0.23)(9119,0.15)(9123,0.1)
(9126,0.0)(9129,-0.15)(9132,-0.2)(9136,-0.3)(9138,-0.05)(9141,-0.37)(9144,0.0)(9147,0.4)(9150,0.0)(9152,-0.37)
(9155,-0.1)(9157,0.2)(9160,0.1)(9163,0.35)(9166,0.2)(9168,0.0)(9172,-0.1)(9175,-0.2)(9178,0.0)(9181,0.05)
(9185,-0.05)(9188,-0.1)(9191,0.1)(9194,0.4)(9197,0.1)(9201,-0.1)(9204,-0.05)(9208,-0.2)(9210,0.0)(9212,0.1)
(9214,-0.2)(9216,-0.57)(9219,-0.1)(9223,0.15)(9226,0.05)(9229,0.2)(9232,0.1)(9236,0.45)(9239,0.1)(9242,-0.12)
(9245,0.0)(9249,-0.05)(9252,0.1)(9255,0.52)(9258,0.1)(9262,-0.3)(9265,-0.15)(9268,-0.1)(9271,-0.2)(9273,-0.37)
(9276,-0.2)(9279,-0.1)(9282,0.1)(9284,0.22)(9287,0.28)(9290,0.28)(9294,0.3)(9298,0.3)
};
\end{axis}
\end{tikzpicture}
\end{document}
